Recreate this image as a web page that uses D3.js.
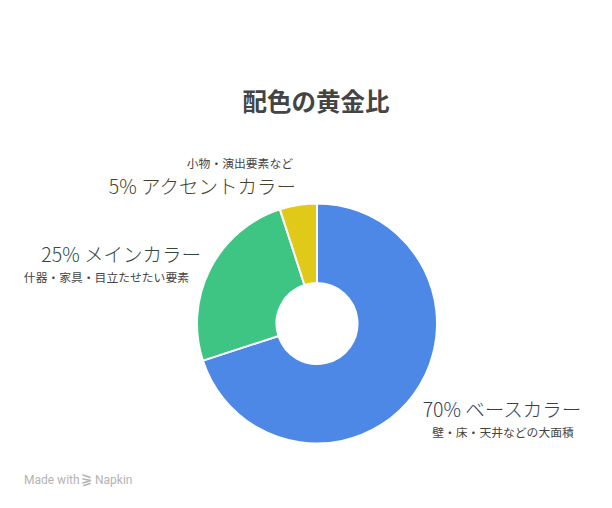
<!DOCTYPE html>
<html><head><meta charset="utf-8">
<script src="https://cdn.jsdelivr.net/npm/d3@7"></script>
<style>
html,body{margin:0;padding:0;background:#fff;}
svg{display:block;font-family:"Noto Sans CJK JP","Noto Sans",sans-serif;}
</style></head>
<body>
<svg id="c" width="612" height="508"></svg>
<script>
const title = "配色の黄金比";
const categories = ["ベースカラー", "メインカラー", "アクセントカラー"];
const values = [70, 25, 5];
const subLabels = ["壁・床・天井などの大面積", "什器・家具・目立たせたい要素", "小物・演出要素など"];
const colors = ["#4d88e6", "#3ec583", "#e0c918"];
const labelColors = ["#353f4e", "#2f4a3f", "#45422e"];

const svg = d3.select("#c");
const cx = 317, cy = 323.5, rOuter = 120, rInner = 40.5;

svg.append("text").attr("x", 316).attr("y", 111).attr("text-anchor", "middle")
  .attr("font-size", 24.5).attr("font-weight", 700).attr("fill", "#444").text(title);

const pie = d3.pie().sort(null).value(d => d);
const arc = d3.arc().innerRadius(rInner).outerRadius(rOuter);
const g = svg.append("g").attr("transform", `translate(${cx},${cy})`);
g.selectAll("path").data(pie(values)).join("path")
  .attr("d", arc).attr("fill", (d, i) => colors[i])
  .attr("stroke", "#fff").attr("stroke-width", 2).attr("stroke-linejoin", "round");

const layout = [
  {mx: 502, my: 417, ma: "middle", sx: 503, sy: 437, sa: "middle"},
  {mx: 201, my: 262, ma: "end", sx: 189, sy: 282, sa: "end"},
  {mx: 296, my: 194, ma: "end", sx: 293, sy: 168, sa: "end"}
];
categories.forEach((c, i) => {
  const L = layout[i];
  svg.append("text").attr("x", L.mx).attr("y", L.my).attr("text-anchor", L.ma)
    .attr("font-size", 19.5).attr("font-weight", 300).attr("fill", labelColors[i])
    .text(values[i] + "% " + c);
  svg.append("text").attr("x", L.sx).attr("y", L.sy).attr("text-anchor", L.sa)
    .attr("font-size", 11.8).attr("fill", "#444").text(subLabels[i]);
});

// footer
const f = svg.append("g").attr("fill", "#b3b3b3");
f.append("text").attr("x", 24).attr("y", 484).attr("font-family", "Roboto, sans-serif")
  .attr("font-size", 12).text("Made with");
const ic = f.append("g").attr("transform", "translate(82,474)").attr("fill", "none")
  .attr("stroke", "#b3b3b3").attr("stroke-width", 1.6).attr("stroke-linecap", "round");
ic.append("path").attr("d", "M1,1 L8,3.5 M1,5 L9,6.5 L1,9 M2,11.5 L8,9.5");
f.append("text").attr("x", 95).attr("y", 484).attr("font-family", "Roboto, sans-serif")
  .attr("font-size", 12).text("Napkin");
</script>
</body></html>
